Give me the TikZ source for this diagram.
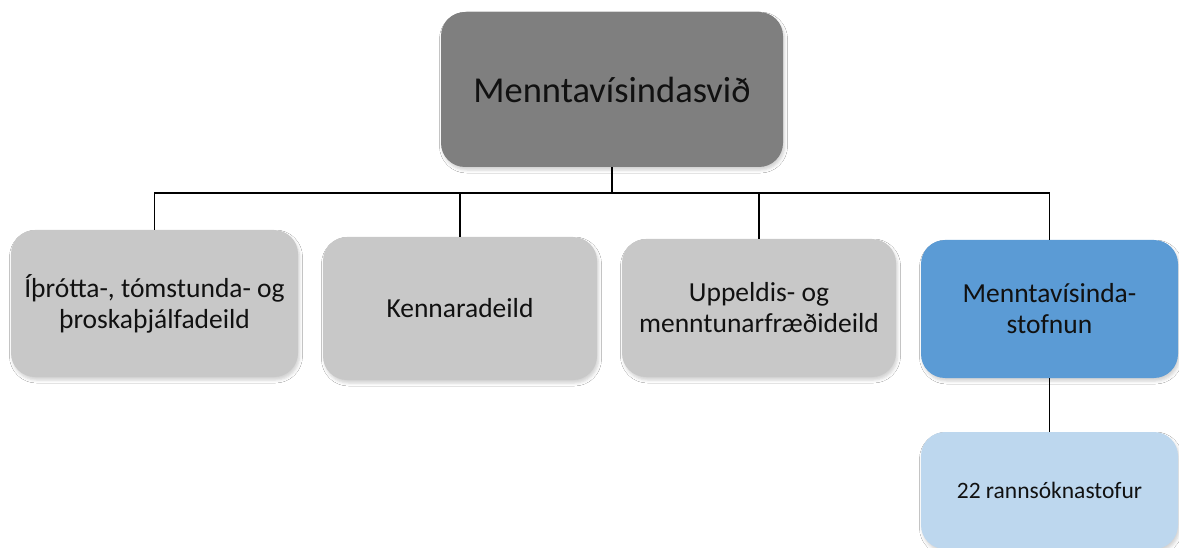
\documentclass[tikz,border=0pt]{standalone}
\usepackage{fontspec}
\setmainfont{Carlito}
\usetikzlibrary{shadows.blur}
\definecolor{topgray}{HTML}{7F7F7F}
\definecolor{deptgray}{HTML}{C8C8C8}
\definecolor{instblue}{HTML}{5B9BD5}
\definecolor{labblue}{HTML}{BDD7EE}
\definecolor{txt}{HTML}{111111}
\tikzset{
  box/.style={rounded corners=24pt, align=center, text=txt, inner sep=0pt,
    blur shadow={shadow xshift=1.5pt, shadow yshift=-3pt, shadow blur radius=3pt, shadow opacity=18}},
  dept/.style={box, fill=deptgray, font=\fontsize{27.5}{31}\selectfont},
  link/.style={draw=black, line width=1.4pt}
}
\begin{document}
\begin{tikzpicture}[x=1pt,y=-1pt]
\useasboundingbox[fill=white] (0,0) rectangle (1179,548);
\node[box, fill=topgray, minimum width=342pt, minimum height=155pt, font=\fontsize{36.5}{40}\selectfont] (top) at (612,89.5) {Menntavísindasvið};
\node[dept, minimum width=287pt, minimum height=147pt] (b1) at (154.5,303.5) {Íþrótta-, tómstunda- og\\þroskaþjálfadeild};
\node[dept, minimum width=274pt, minimum height=143pt] (b2) at (460,308.5) {Kennaradeild};
\node[dept, minimum width=274pt, minimum height=138pt] (b3) at (759,308) {Uppeldis- og\\menntunarfræðideild};
\node[dept, fill=instblue, minimum width=257pt, minimum height=138pt] (b4) at (1049.5,309) {Menntavísinda-\\stofnun};
\node[box, fill=labblue, minimum width=257pt, minimum height=117pt, font=\fontsize{23.5}{27}\selectfont] (b5) at (1049.5,490.5) {22 rannsóknastofur};
\coordinate (j) at (612,193);
\draw[link] (top.south) -- (j);
\draw[link] (b1.north) |- (j);
\draw[link] (b2.north) |- (j);
\draw[link] (b3.north) |- (j);
\draw[link] (b4.north) |- (j);
\draw[link] (b4.south) -- (b5.north);
\end{tikzpicture}
\end{document}
